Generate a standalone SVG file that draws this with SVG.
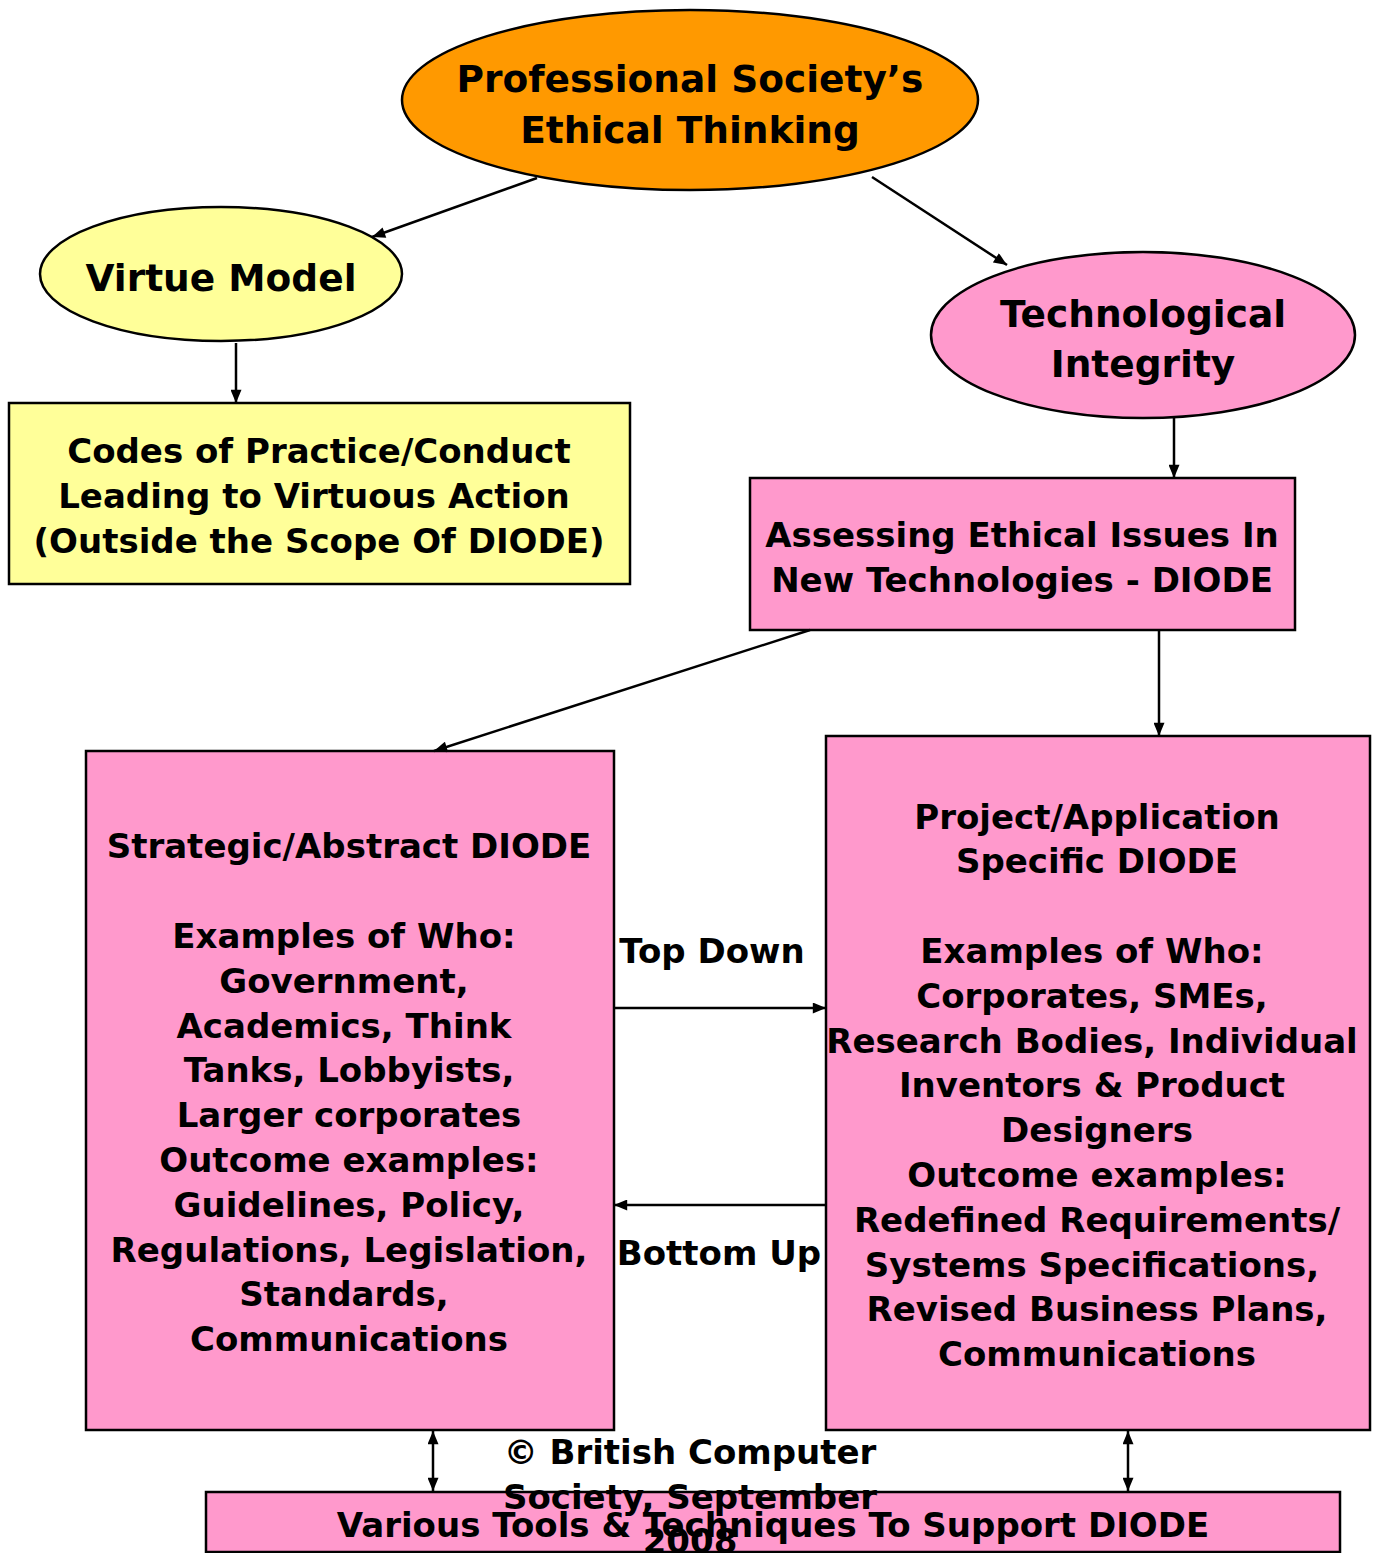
<svg xmlns="http://www.w3.org/2000/svg" width="1374" height="1553" viewBox="0 0 1374 1553">
<defs>
<style>
text{font-family:"DejaVu Sans","Verdana",sans-serif;font-weight:bold;fill:#000;text-anchor:middle}
.t{font-size:37.5px}
.b{font-size:34px}
.shape{stroke:#000;stroke-width:2.5}
.orange{fill:#FF9900}
.yellow{fill:#FFFF99}
.pink{fill:#FF99CC}
.conn line{stroke:#000;stroke-width:2.5}
</style>
<marker id="ah" viewBox="0 0 12 10" refX="12" refY="5" markerWidth="14" markerHeight="11" markerUnits="userSpaceOnUse" orient="auto-start-reverse">
<path d="M0,0 L12,5 L0,10 z" fill="#000"/>
</marker>
</defs>
<rect width="1374" height="1553" fill="#fff"/>

<g id="professional">
<ellipse class="shape orange" cx="690" cy="100" rx="288" ry="90"/>
<text class="t" x="690" y="92">Professional Society’s</text>
<text class="t" x="690" y="143">Ethical Thinking</text>
</g>

<g id="virtue">
<ellipse class="shape yellow" cx="221" cy="274" rx="181" ry="67"/>
<text class="t" x="221" y="291">Virtue Model</text>
</g>

<g id="technological">
<ellipse class="shape pink" cx="1143" cy="335" rx="212" ry="83"/>
<text class="t" x="1143" y="327">Technological</text>
<text class="t" x="1143" y="377">Integrity</text>
</g>

<g id="codes">
<rect class="shape yellow" x="9" y="403" width="621" height="181"/>
<text class="b" x="319" y="463">Codes of Practice/Conduct</text>
<text class="b" x="314" y="508">Leading to Virtuous Action</text>
<text class="b" x="319" y="553">(Outside the Scope Of DIODE)</text>
</g>

<g id="assessing">
<rect class="shape pink" x="750" y="478" width="545" height="152"/>
<text class="b" x="1022" y="547">Assessing Ethical Issues In</text>
<text class="b" x="1022" y="592">New Technologies - DIODE</text>
</g>

<g id="strategic">
<rect class="shape pink" x="86" y="751" width="528" height="679"/>
<text class="b" x="349" y="858">Strategic/Abstract DIODE</text>
<text class="b" x="344" y="948">Examples of Who:</text>
<text class="b" x="344" y="993">Government,</text>
<text class="b" x="344" y="1038">Academics, Think</text>
<text class="b" x="349" y="1082">Tanks, Lobbyists,</text>
<text class="b" x="349" y="1127">Larger corporates</text>
<text class="b" x="349" y="1172">Outcome examples:</text>
<text class="b" x="349" y="1217">Guidelines, Policy,</text>
<text class="b" x="349" y="1262">Regulations, Legislation,</text>
<text class="b" x="344" y="1306">Standards,</text>
<text class="b" x="349" y="1351">Communications</text>
</g>

<g id="project">
<rect class="shape pink" x="826" y="736" width="544" height="694"/>
<text class="b" x="1097" y="829">Project/Application</text>
<text class="b" x="1097" y="873">Specific DIODE</text>
<text class="b" x="1092" y="963">Examples of Who:</text>
<text class="b" x="1092" y="1008">Corporates, SMEs,</text>
<text class="b" x="1092" y="1053">Research Bodies, Individual</text>
<text class="b" x="1092" y="1097">Inventors &amp; Product</text>
<text class="b" x="1097" y="1142">Designers</text>
<text class="b" x="1097" y="1187">Outcome examples:</text>
<text class="b" x="1097" y="1232">Redefined Requirements/</text>
<text class="b" x="1092" y="1277">Systems Specifications,</text>
<text class="b" x="1097" y="1321">Revised Business Plans,</text>
<text class="b" x="1097" y="1366">Communications</text>
</g>

<g id="tools">
<rect class="shape pink" x="206" y="1492" width="1134" height="60"/>
<text class="b" x="773" y="1537">Various Tools &amp; Techniques To Support DIODE</text>
</g>

<g id="conn" class="conn">
<line x1="537" y1="178" x2="372" y2="237" marker-end="url(#ah)"/>
<line x1="872" y1="177" x2="1007" y2="265" marker-end="url(#ah)"/>
<line x1="236" y1="343" x2="236" y2="403" marker-end="url(#ah)"/>
<line x1="1174" y1="418" x2="1174" y2="478" marker-end="url(#ah)"/>
<line x1="810" y1="630" x2="434" y2="751" marker-end="url(#ah)"/>
<line x1="1159" y1="630" x2="1159" y2="736" marker-end="url(#ah)"/>
<line x1="614" y1="1008" x2="826" y2="1008" marker-end="url(#ah)"/>
<line x1="826" y1="1205" x2="614" y2="1205" marker-end="url(#ah)"/>
<line x1="433" y1="1431" x2="433" y2="1491" marker-start="url(#ah)" marker-end="url(#ah)"/>
<line x1="1128" y1="1431" x2="1128" y2="1491" marker-start="url(#ah)" marker-end="url(#ah)"/>
</g>

<g id="labels">
<text class="b" x="712" y="963">Top Down</text>
<text class="b" x="719" y="1265">Bottom Up</text>
</g>

<g id="copyright">
<text class="b" x="690" y="1464">© British Computer</text>
<text class="b" x="690" y="1509">Society, September</text>
<text class="b" x="690" y="1553">2008</text>
</g>
</svg>
